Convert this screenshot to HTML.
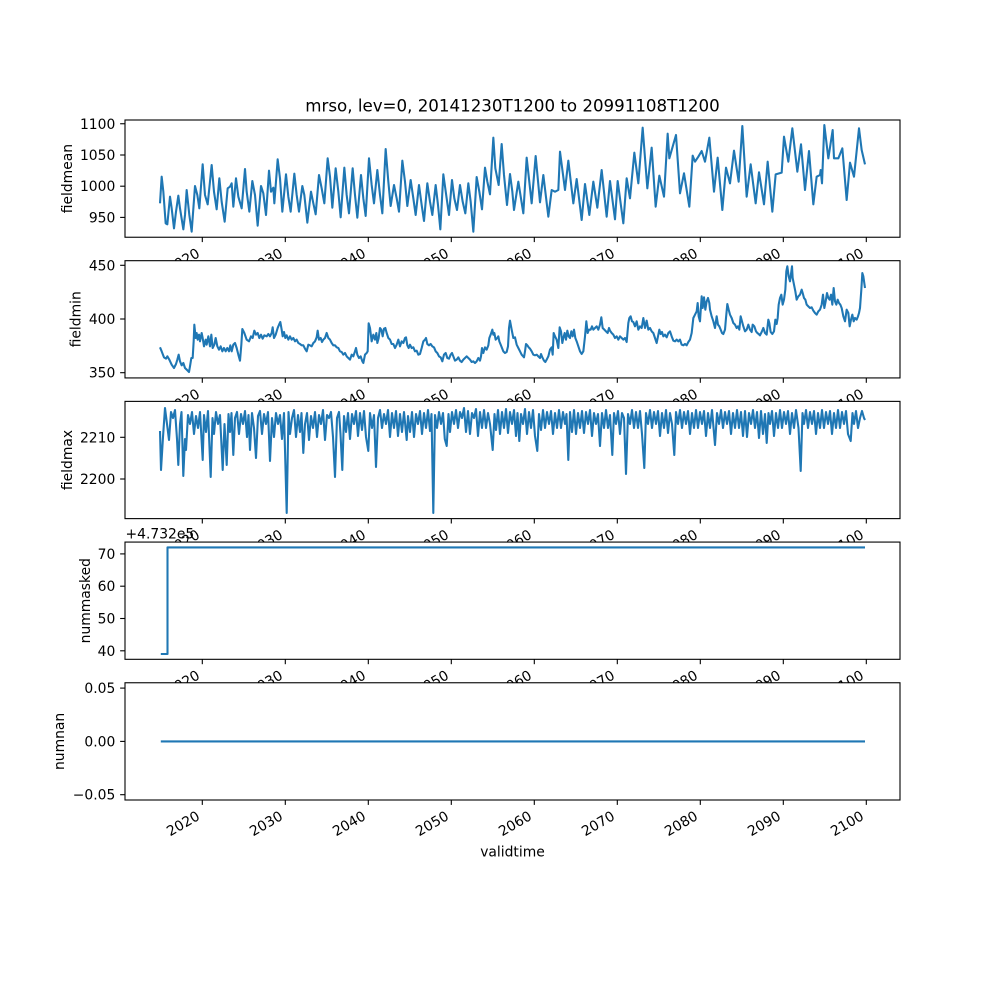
<!DOCTYPE html>
<html><head><meta charset="utf-8">
<style>
html,body{margin:0;padding:0;background:#fff;}
svg{display:block;}
text{font-family:"DejaVu Sans","Liberation Sans",sans-serif;font-size:13.89px;fill:#000;}
</style></head>
<body>
<svg width="1000" height="1000" viewBox="0 0 1000 1000" xmlns="http://www.w3.org/2000/svg">
<rect x="0" y="0" width="1000" height="1000" fill="#fff"/>

<!-- ============ PANEL 1 fieldmean ============ -->
<rect x="125" y="120" width="775" height="117.24" fill="#fff"/>
<g transform="translate(150,115) scale(0.3333333)">
<polyline fill="none" stroke="#1f77b4" stroke-width="6.25" stroke-linejoin="round" points="30,265 35,185 40,230 47,325 52,328 60,245 65,280 72,340 78,290 85,242 90,280 100,343 105,300 110,225 118,300 125,350 135,213 142,240 148,280 158,148 165,240 173,268 185,150 192,230 200,283 208,190 215,260 224,320 233,220 240,215 245,205 250,275 258,190 265,245 275,280 285,162 290,230 298,290 307,198 315,240 323,332 333,213 340,235 348,300 357,167 363,230 370,218 373,265 383,133 390,190 397,290 408,178 415,245 422,290 433,176 440,240 447,290 457,213 463,240 472,323 483,230 490,265 497,298 507,180 515,220 523,265 533,130 540,185 547,278 557,160 565,230 572,307 583,158 590,240 597,295 608,160 615,240 622,308 633,180 640,250 647,303 657,130 665,210 672,265 682,165 690,240 697,295 707,102 715,200 722,273 732,210 740,250 747,290 757,137 765,200 772,273 782,195 790,250 797,300 807,210 815,270 822,318 832,205 840,260 847,300 857,210 864,270 871,343 880,178 890,250 897,300 906,195 913,250 921,285 930,210 938,260 946,295 955,205 962,260 970,350 980,186 988,230 996,283 1005,158 1012,200 1020,238 1030,68 1036,160 1046,210 1055,87 1062,180 1071,270 1080,177 1087,230 1092,285 1105,200 1120,295 1130,128 1145,265 1157,123 1170,262 1180,180 1195,305 1205,225 1215,230 1225,225 1230,110 1245,225 1255,137 1270,265 1280,192 1295,315 1305,207 1318,300 1330,200 1342,278 1355,165 1370,305 1380,198 1395,313 1403,198 1420,325 1430,190 1440,250 1453,113 1465,205 1478,38 1492,220 1505,98 1517,275 1528,182 1542,245 1553,56 1558,130 1578,60 1590,235 1602,175 1618,275 1628,122 1635,140 1645,125 1655,108 1665,140 1678,68 1692,230 1703,128 1717,285 1728,158 1740,205 1752,107 1766,200 1777,33 1790,245 1802,148 1817,265 1827,172 1842,268 1853,140 1867,290 1877,178 1895,173 1902,65 1915,140 1927,40 1942,170 1953,88 1965,225 1977,108 1990,268 2000,185 2010,180 2012,165 2016,205 2023,30 2035,130 2048,45 2052,130 2065,130 2077,100 2090,255 2100,143 2112,185 2127,40 2135,105 2145,148"/>
</g>
<rect x="125" y="120" width="775" height="117.24" fill="none" stroke="#000" stroke-width="1.1"/>
<g stroke="#000" stroke-width="1.1">
<line x1="125" y1="123.75" x2="120.14" y2="123.75"/><line x1="125" y1="155.0" x2="120.14" y2="155.0"/><line x1="125" y1="186.2" x2="120.14" y2="186.2"/><line x1="125" y1="217.4" x2="120.14" y2="217.4"/>
<line x1="202.3" y1="237.24" x2="202.3" y2="242.1"/><line x1="285.3" y1="237.24" x2="285.3" y2="242.1"/><line x1="368.3" y1="237.24" x2="368.3" y2="242.1"/><line x1="451.3" y1="237.24" x2="451.3" y2="242.1"/><line x1="534.3" y1="237.24" x2="534.3" y2="242.1"/><line x1="617.3" y1="237.24" x2="617.3" y2="242.1"/><line x1="700.3" y1="237.24" x2="700.3" y2="242.1"/><line x1="783.3" y1="237.24" x2="783.3" y2="242.1"/><line x1="866.3" y1="237.24" x2="866.3" y2="242.1"/>
</g>
<g text-anchor="end">
<text x="115.3" y="128.75">1100</text><text x="115.3" y="160.0">1050</text><text x="115.3" y="191.2">1000</text><text x="115.3" y="222.4">950</text>
</g>
<g text-anchor="end">
<text x="200.75" y="256.08" transform="rotate(-30 200.75 256.08)">2020</text>
<text x="283.75" y="256.08" transform="rotate(-30 283.75 256.08)">2030</text>
<text x="366.75" y="256.08" transform="rotate(-30 366.75 256.08)">2040</text>
<text x="449.75" y="256.08" transform="rotate(-30 449.75 256.08)">2050</text>
<text x="532.75" y="256.08" transform="rotate(-30 532.75 256.08)">2060</text>
<text x="615.75" y="256.08" transform="rotate(-30 615.75 256.08)">2070</text>
<text x="698.75" y="256.08" transform="rotate(-30 698.75 256.08)">2080</text>
<text x="781.75" y="256.08" transform="rotate(-30 781.75 256.08)">2090</text>
<text x="864.75" y="256.08" transform="rotate(-30 864.75 256.08)">2100</text>
</g>
<text x="71.8" y="178.6" text-anchor="middle" transform="rotate(-90 71.8 178.6)">fieldmean</text>
<text x="512.5" y="111.7" text-anchor="middle" style="font-size:16.67px">mrso, lev=0, 20141230T1200 to 20991108T1200</text>

<!-- ============ PANEL 2 fieldmin ============ -->
<rect x="125" y="260.69" width="775" height="117.24" fill="#fff"/>
<g transform="translate(150,258) scale(0.3333333)">
<polyline fill="none" stroke="#1f77b4" stroke-width="6.25" stroke-linejoin="round" points="30,268 35,280 42,298 48,302 52,295 58,305 65,320 72,330 78,318 82,305 86,290 90,310 95,322 100,315 105,330 110,335 117,342 120,325 124,300 128,300 131,250 133,200 137,240 140,225 143,245 147,230 150,250 155,225 158,240 162,265 167,245 170,260 175,235 180,265 184,230 188,270 193,260 197,240 202,265 207,275 212,265 217,280 222,270 227,280 232,270 237,280 241,262 245,280 250,260 255,255 260,270 265,290 270,308 274,260 277,213 283,225 290,245 297,250 303,235 308,240 313,218 318,230 323,225 328,240 333,230 338,242 343,232 350,235 355,228 360,235 365,225 368,208 372,240 377,230 383,210 388,198 391,192 395,215 398,235 402,222 406,240 410,232 415,245 420,235 425,245 430,240 435,250 440,245 445,255 450,258 455,262 460,262 465,272 470,280 475,260 480,262 485,265 490,255 495,250 500,238 503,218 507,245 512,240 516,252 520,245 525,240 530,225 535,240 540,245 545,255 550,262 555,262 560,268 565,270 570,280 575,282 580,290 585,285 590,295 595,300 600,305 605,290 610,295 615,280 618,270 622,290 627,300 632,295 637,310 640,315 645,290 650,285 653,280 656,196 660,210 665,250 670,230 675,245 679,225 682,255 686,240 690,210 694,215 698,235 702,212 706,210 710,225 715,240 720,245 725,258 730,258 735,270 740,260 745,245 750,265 755,250 760,255 765,240 768,238 772,262 776,270 780,260 785,270 790,268 795,280 800,278 805,290 810,288 815,270 820,250 825,245 828,240 832,258 837,262 842,258 847,265 852,268 857,280 862,285 867,295 872,298 877,310 882,290 887,285 892,300 897,302 902,290 906,285 910,295 915,308 920,305 925,298 930,308 935,312 940,305 945,300 950,295 955,300 960,305 965,312 970,310 975,315 980,310 985,300 990,308 993,295 996,270 1000,285 1005,268 1010,275 1015,262 1018,240 1022,230 1027,215 1030,230 1033,225 1037,245 1042,240 1045,235 1048,250 1052,260 1056,270 1060,280 1065,285 1070,282 1074,265 1077,210 1080,188 1085,215 1090,240 1095,238 1100,260 1105,270 1110,280 1115,290 1122,298 1125,280 1128,258 1132,262 1136,268 1140,272 1145,280 1150,290 1155,292 1160,290 1165,295 1170,300 1173,288 1177,298 1182,308 1186,312 1190,305 1195,295 1200,275 1205,268 1208,290 1211,225 1215,235 1220,245 1225,270 1229,208 1233,220 1237,255 1240,240 1244,225 1248,245 1252,218 1256,235 1260,240 1264,220 1268,235 1272,215 1276,240 1280,250 1285,265 1290,280 1295,288 1300,280 1305,235 1309,190 1313,225 1317,215 1322,215 1326,205 1330,215 1335,210 1340,205 1345,215 1350,200 1354,178 1358,210 1363,215 1368,220 1373,225 1377,210 1380,218 1385,225 1390,230 1395,240 1400,235 1405,245 1410,235 1415,240 1420,245 1425,240 1430,252 1435,195 1438,180 1442,175 1446,190 1450,192 1455,205 1460,190 1465,215 1470,205 1475,210 1480,180 1485,210 1490,188 1495,215 1500,210 1505,220 1510,225 1515,240 1520,255 1525,230 1528,215 1532,228 1536,222 1540,235 1545,230 1550,238 1555,225 1560,220 1565,235 1570,248 1575,250 1580,245 1585,250 1590,245 1595,260 1600,262 1605,258 1610,262 1615,252 1620,245 1625,225 1630,180 1635,170 1640,160 1643,135 1646,175 1650,190 1655,115 1658,150 1662,118 1666,155 1670,130 1674,120 1678,135 1680,155 1685,175 1690,190 1695,210 1700,175 1704,200 1708,205 1712,215 1716,225 1720,228 1725,215 1728,180 1732,138 1736,155 1740,170 1745,180 1750,195 1755,200 1760,210 1764,205 1768,215 1772,175 1776,190 1780,205 1785,220 1790,215 1795,200 1800,215 1805,222 1808,200 1813,205 1818,220 1822,225 1826,228 1830,232 1835,222 1840,210 1845,225 1850,230 1855,185 1858,195 1862,222 1867,228 1872,220 1876,185 1880,198 1883,180 1886,140 1890,120 1894,110 1898,140 1902,125 1906,95 1909,40 1912,25 1916,55 1920,70 1923,48 1926,25 1928,60 1932,80 1936,100 1940,125 1945,115 1950,110 1955,95 1958,105 1962,120 1966,125 1970,140 1975,145 1980,150 1985,148 1990,158 1995,165 2000,170 2005,160 2010,155 2015,140 2019,110 2023,150 2027,130 2031,105 2035,120 2039,125 2043,110 2047,140 2051,90 2055,130 2059,140 2063,125 2067,135 2071,140 2075,150 2080,175 2085,190 2090,155 2095,165 2099,205 2103,185 2107,170 2111,190 2115,180 2120,185 2124,175 2127,165 2130,150 2134,95 2137,45 2140,55 2145,90"/>
</g>
<rect x="125" y="260.69" width="775" height="117.24" fill="none" stroke="#000" stroke-width="1.1"/>
<g stroke="#000" stroke-width="1.1">
<line x1="125" y1="265.3" x2="120.14" y2="265.3"/><line x1="125" y1="319.0" x2="120.14" y2="319.0"/><line x1="125" y1="372.7" x2="120.14" y2="372.7"/>
<line x1="202.3" y1="377.93" x2="202.3" y2="382.8"/><line x1="285.3" y1="377.93" x2="285.3" y2="382.8"/><line x1="368.3" y1="377.93" x2="368.3" y2="382.8"/><line x1="451.3" y1="377.93" x2="451.3" y2="382.8"/><line x1="534.3" y1="377.93" x2="534.3" y2="382.8"/><line x1="617.3" y1="377.93" x2="617.3" y2="382.8"/><line x1="700.3" y1="377.93" x2="700.3" y2="382.8"/><line x1="783.3" y1="377.93" x2="783.3" y2="382.8"/><line x1="866.3" y1="377.93" x2="866.3" y2="382.8"/>
</g>
<g text-anchor="end">
<text x="115.3" y="270.3">450</text><text x="115.3" y="324.0">400</text><text x="115.3" y="377.7">350</text>
</g>
<g text-anchor="end">
<text x="200.75" y="396.77" transform="rotate(-30 200.75 396.77)">2020</text>
<text x="283.75" y="396.77" transform="rotate(-30 283.75 396.77)">2030</text>
<text x="366.75" y="396.77" transform="rotate(-30 366.75 396.77)">2040</text>
<text x="449.75" y="396.77" transform="rotate(-30 449.75 396.77)">2050</text>
<text x="532.75" y="396.77" transform="rotate(-30 532.75 396.77)">2060</text>
<text x="615.75" y="396.77" transform="rotate(-30 615.75 396.77)">2070</text>
<text x="698.75" y="396.77" transform="rotate(-30 698.75 396.77)">2080</text>
<text x="781.75" y="396.77" transform="rotate(-30 781.75 396.77)">2090</text>
<text x="864.75" y="396.77" transform="rotate(-30 864.75 396.77)">2100</text>
</g>
<text x="80.3" y="319.3" text-anchor="middle" transform="rotate(-90 80.3 319.3)">fieldmin</text>

<!-- ============ PANEL 3 fieldmax ============ -->
<rect x="125" y="401.38" width="775" height="117.24" fill="#fff"/>
<polyline fill="none" stroke="#1f77b4" stroke-width="2.08" stroke-linejoin="round" points="160,431 161,470 163,437 165,408 167,424 169,440 171,412 173,418 175,410 177,439 178.3,465 180,424 181.5,412 183.3,476 185,439 186,450 188,415 190,424 192,412 194,434 196,416 198,428 200,412 202.7,460 204,415 206,432 208,411 210.7,477 212.5,418 214,434 216,412 218,424 220,415 222.7,470 224.5,424 226.7,465 228.5,414 230,432 231.5,413 233.3,455 235,418 237,412 239,434 241,414 243,424 245,411 247,437 248.5,415 250,450 252,413 254,428 256,458 258,416 260,411 262,434 264,414 266,424 268,412 270,461 272,418 274,437 276,413 278,424 280,415 282,439 284,413 286.7,513 288.5,412 290,434 292,418 294,410 296,437 298,415 300,432 301.5,413 303.3,453 305,424 307,413 309,440 311,416 313,428 315,412 317,437 319,415 321,424 323,410 325,440 327,415 329,418 331,412 333,437 335,477 337,418 339,412 340.5,434 342.3,470 344,416 346,432 348,413 350,439 352,414 354,424 356,411 358,436 360,413 362,430 364,411 366,437 368.3,451 370,413 372,428 374,415 376,467 378,418 380,410 382,428 384,414 386,424 388,410 390,437 392,413 394,428 396,411 398,436 400,414 402,432 404,412 406.7,440 408,416 410,432 412,412 414,437 416,414 418,424 420,411 422,434 424,413 426,428 428,410 430,431 431.5,414 433.3,513 435,415 437,428 439,412 441,424 443,413 444.8,439 446.7,446 448.5,414 450,432 452,412 454,424 456,410 458,428 460,412 462,418 464,408 466,432 468,411 470,434 472,413 474,418 476,409 478,436 480,412 482,428 484,410 486,428 488,413 490,424 492.7,450 494.5,414 496,430 498,410 500,434 502,412 504,428 506,409 508,433 510,412 512,424 514,410 516,436 517.5,413 519.3,441 521,414 523,424 525,409 527,434 529,412 531,428 533,410 535,436 537.3,451 539,414 541,430 543,410 545,428 547,412 549,424 551,411 553,434 555,413 557,428 559,410 561,428 563,412 565,424 566.5,414 568.3,460 570,412 572,432 574,410 576,434 578,413 580,428 582,411 584,433 586,412 588,424 590,410 592,436 594,413 596,424 598,414 600,446 602,413 604,428 606,410 608,428 610,415 612.3,455 614,413 616,424 618,411 620,434 622,413 624,418 626,474 628,414 630,424 632,410 634,428 636,412 638,428 640,411 642,434 644.3,468 646,413 648,424 650,410 652,428 654,412 656,424 658,411 660,436 662,413 664,428 666,410 668,433 670,413 672,424 674.3,455 676,412 678,424 680,410 682,428 684,412 686,424 688,411 690,434 692,413 694,428 696,410 698,428 700,412 702,424 704,411 706,436 708,413 710,428 712,410 715,445 717,413 719,424 721,410 723,428 725,412 727,424 729,411 731,434 733,413 735,428 737,410 739,428 741,412 743,436 745,411 747,437 749,413 751,424 753,410 755,428 757,412 759,438 761,411 763,434 765,414 766.7,443 768.5,413 770,424 772,411 774,436 776,413 778,428 780,410 782,428 784,412 786,424 788,411 790,434 792,413 794,428 796,410 798.5,428 800.7,471 802.5,413 804,424 806,410 808,428 810,412 812,424 814,411 816,434 818,413 820,428 822,410 824,428 826,412 828,424 830,411 832,434 834,413 836,428 838,410 840,428 842,412 844,424 846,411 848,434 850.7,441 852.5,413 854,424 856,411 858,428 860,418 862,411 864,418 865,420"/>
<rect x="125" y="401.38" width="775" height="117.24" fill="none" stroke="#000" stroke-width="1.1"/>
<g stroke="#000" stroke-width="1.1">
<line x1="125" y1="437.3" x2="120.14" y2="437.3"/><line x1="125" y1="479.0" x2="120.14" y2="479.0"/>
<line x1="202.3" y1="518.62" x2="202.3" y2="523.5"/><line x1="285.3" y1="518.62" x2="285.3" y2="523.5"/><line x1="368.3" y1="518.62" x2="368.3" y2="523.5"/><line x1="451.3" y1="518.62" x2="451.3" y2="523.5"/><line x1="534.3" y1="518.62" x2="534.3" y2="523.5"/><line x1="617.3" y1="518.62" x2="617.3" y2="523.5"/><line x1="700.3" y1="518.62" x2="700.3" y2="523.5"/><line x1="783.3" y1="518.62" x2="783.3" y2="523.5"/><line x1="866.3" y1="518.62" x2="866.3" y2="523.5"/>
</g>
<g text-anchor="end">
<text x="115.3" y="442.3">2210</text><text x="115.3" y="484.0">2200</text>
</g>
<g text-anchor="end">
<text x="200.75" y="537.46" transform="rotate(-30 200.75 537.46)">2020</text>
<text x="283.75" y="537.46" transform="rotate(-30 283.75 537.46)">2030</text>
<text x="366.75" y="537.46" transform="rotate(-30 366.75 537.46)">2040</text>
<text x="449.75" y="537.46" transform="rotate(-30 449.75 537.46)">2050</text>
<text x="532.75" y="537.46" transform="rotate(-30 532.75 537.46)">2060</text>
<text x="615.75" y="537.46" transform="rotate(-30 615.75 537.46)">2070</text>
<text x="698.75" y="537.46" transform="rotate(-30 698.75 537.46)">2080</text>
<text x="781.75" y="537.46" transform="rotate(-30 781.75 537.46)">2090</text>
<text x="864.75" y="537.46" transform="rotate(-30 864.75 537.46)">2100</text>
</g>
<text x="71.8" y="460" text-anchor="middle" transform="rotate(-90 71.8 460)">fieldmax</text>

<!-- ============ PANEL 4 nummasked ============ -->
<rect x="125" y="542.07" width="775" height="117.24" fill="#fff"/>
<polyline fill="none" stroke="#1f77b4" stroke-width="2.08" stroke-linejoin="round" points="160.8,654.0 167.5,654.0 167.5,547.4 865,547.4"/>
<rect x="125" y="542.07" width="775" height="117.24" fill="none" stroke="#000" stroke-width="1.1"/>
<g stroke="#000" stroke-width="1.1">
<line x1="125" y1="553.9" x2="120.14" y2="553.9"/><line x1="125" y1="586.2" x2="120.14" y2="586.2"/><line x1="125" y1="618.5" x2="120.14" y2="618.5"/><line x1="125" y1="650.8" x2="120.14" y2="650.8"/>
<line x1="202.3" y1="659.31" x2="202.3" y2="664.2"/><line x1="285.3" y1="659.31" x2="285.3" y2="664.2"/><line x1="368.3" y1="659.31" x2="368.3" y2="664.2"/><line x1="451.3" y1="659.31" x2="451.3" y2="664.2"/><line x1="534.3" y1="659.31" x2="534.3" y2="664.2"/><line x1="617.3" y1="659.31" x2="617.3" y2="664.2"/><line x1="700.3" y1="659.31" x2="700.3" y2="664.2"/><line x1="783.3" y1="659.31" x2="783.3" y2="664.2"/><line x1="866.3" y1="659.31" x2="866.3" y2="664.2"/>
</g>
<g text-anchor="end">
<text x="115.3" y="558.9">70</text><text x="115.3" y="591.2">60</text><text x="115.3" y="623.5">50</text><text x="115.3" y="655.8">40</text>
</g>
<g text-anchor="end">
<text x="200.75" y="678.15" transform="rotate(-30 200.75 678.15)">2020</text>
<text x="283.75" y="678.15" transform="rotate(-30 283.75 678.15)">2030</text>
<text x="366.75" y="678.15" transform="rotate(-30 366.75 678.15)">2040</text>
<text x="449.75" y="678.15" transform="rotate(-30 449.75 678.15)">2050</text>
<text x="532.75" y="678.15" transform="rotate(-30 532.75 678.15)">2060</text>
<text x="615.75" y="678.15" transform="rotate(-30 615.75 678.15)">2070</text>
<text x="698.75" y="678.15" transform="rotate(-30 698.75 678.15)">2080</text>
<text x="781.75" y="678.15" transform="rotate(-30 781.75 678.15)">2090</text>
<text x="864.75" y="678.15" transform="rotate(-30 864.75 678.15)">2100</text>
</g>
<text x="125.5" y="538.4">+4.732e5</text>
<text x="89.8" y="600.7" text-anchor="middle" transform="rotate(-90 89.8 600.7)">nummasked</text>

<!-- ============ PANEL 5 numnan ============ -->
<rect x="125" y="682.76" width="775" height="117.24" fill="#fff"/>
<polyline fill="none" stroke="#1f77b4" stroke-width="2.08" points="160.8,741.4 865,741.4"/>
<rect x="125" y="682.76" width="775" height="117.24" fill="none" stroke="#000" stroke-width="1.1"/>
<g stroke="#000" stroke-width="1.1">
<line x1="125" y1="688.1" x2="120.14" y2="688.1"/><line x1="125" y1="741.4" x2="120.14" y2="741.4"/><line x1="125" y1="794.7" x2="120.14" y2="794.7"/>
<line x1="202.3" y1="800" x2="202.3" y2="804.9"/><line x1="285.3" y1="800" x2="285.3" y2="804.9"/><line x1="368.3" y1="800" x2="368.3" y2="804.9"/><line x1="451.3" y1="800" x2="451.3" y2="804.9"/><line x1="534.3" y1="800" x2="534.3" y2="804.9"/><line x1="617.3" y1="800" x2="617.3" y2="804.9"/><line x1="700.3" y1="800" x2="700.3" y2="804.9"/><line x1="783.3" y1="800" x2="783.3" y2="804.9"/><line x1="866.3" y1="800" x2="866.3" y2="804.9"/>
</g>
<g text-anchor="end">
<text x="115.3" y="693.1">0.05</text><text x="115.3" y="746.4">0.00</text><text x="115.3" y="799.7">−0.05</text>
</g>
<g text-anchor="end">
<text x="200.75" y="818.84" transform="rotate(-30 200.75 818.84)">2020</text>
<text x="283.75" y="818.84" transform="rotate(-30 283.75 818.84)">2030</text>
<text x="366.75" y="818.84" transform="rotate(-30 366.75 818.84)">2040</text>
<text x="449.75" y="818.84" transform="rotate(-30 449.75 818.84)">2050</text>
<text x="532.75" y="818.84" transform="rotate(-30 532.75 818.84)">2060</text>
<text x="615.75" y="818.84" transform="rotate(-30 615.75 818.84)">2070</text>
<text x="698.75" y="818.84" transform="rotate(-30 698.75 818.84)">2080</text>
<text x="781.75" y="818.84" transform="rotate(-30 781.75 818.84)">2090</text>
<text x="864.75" y="818.84" transform="rotate(-30 864.75 818.84)">2100</text>
</g>
<text x="64.2" y="741.4" text-anchor="middle" transform="rotate(-90 64.2 741.4)">numnan</text>
<text x="512.5" y="856.5" text-anchor="middle">validtime</text>
</svg>
</body></html>
